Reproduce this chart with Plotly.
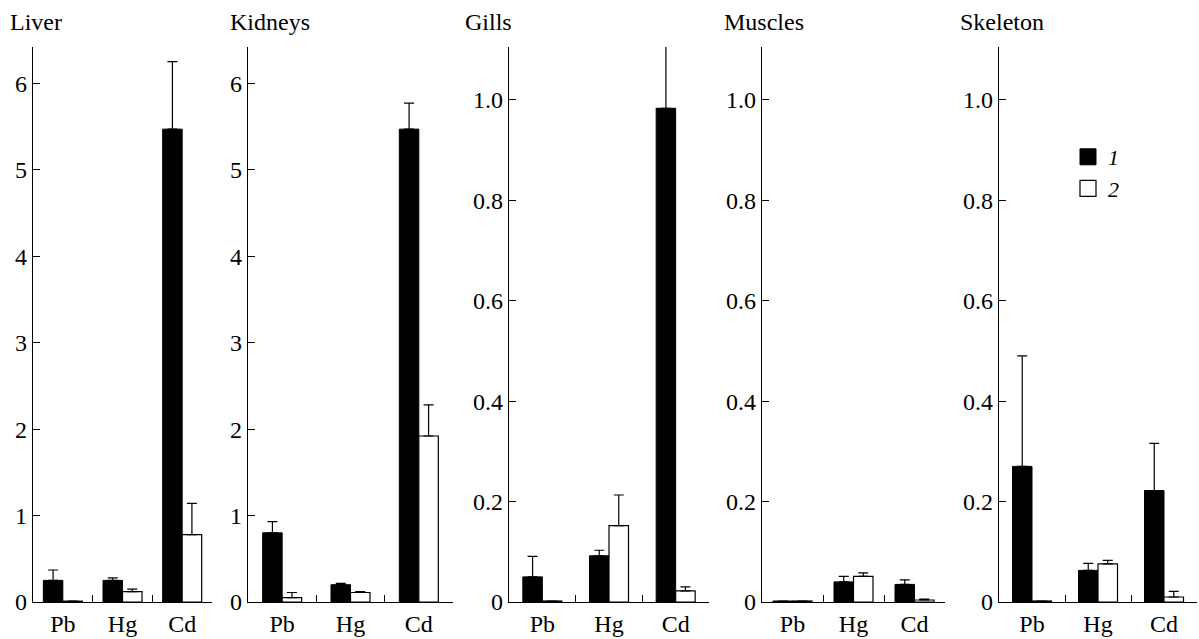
import plotly.graph_objects as go

categories = ["Pb", "Hg", "Cd"]
panels = ["Liver", "Kidneys", "Gills", "Muscles", "Skeleton"]

liver_1 = [0.25, 0.25, 5.47]
liver_1_err = [0.12, 0.03, 0.78]
liver_2 = [0.01, 0.12, 0.78]
liver_2_err = [0.0, 0.03, 0.36]

kidneys_1 = [0.80, 0.20, 5.47]
kidneys_1_err = [0.13, 0.015, 0.30]
kidneys_2 = [0.05, 0.11, 1.92]
kidneys_2_err = [0.06, 0.01, 0.36]

gills_1 = [0.050, 0.092, 0.983]
gills_1_err = [0.041, 0.011, 0.127]
gills_2 = [0.002, 0.152, 0.022]
gills_2_err = [0.0, 0.061, 0.008]

muscles_1 = [0.002, 0.040, 0.035]
muscles_1_err = [0.0, 0.011, 0.009]
muscles_2 = [0.002, 0.051, 0.004]
muscles_2_err = [0.0, 0.007, 0.002]

skeleton_1 = [0.27, 0.063, 0.222]
skeleton_1_err = [0.22, 0.014, 0.094]
skeleton_2 = [0.002, 0.076, 0.010]
skeleton_2_err = [0.0, 0.007, 0.011]

big_ticks = [0, 1, 2, 3, 4, 5, 6]
big_ticktext = ["0", "1", "2", "3", "4", "5", "6"]
small_ticks = [0, 0.2, 0.4, 0.6, 0.8, 1.0]
small_ticktext = ["0", "0.2", "0.4", "0.6", "0.8", "1.0"]

series1 = [liver_1, kidneys_1, gills_1, muscles_1, skeleton_1]
series1_err = [liver_1_err, kidneys_1_err, gills_1_err, muscles_1_err, skeleton_1_err]
series2 = [liver_2, kidneys_2, gills_2, muscles_2, skeleton_2]
series2_err = [liver_2_err, kidneys_2_err, gills_2_err, muscles_2_err, skeleton_2_err]

# layout (pixels)
W, H = 1199, 639
x_px = [(33, 212), (248, 453), (509, 709), (762, 945), (999, 1197)]
title_px = [8, 228, 463, 722, 958]
y_bottom, y_top = 602, 47
y_ranges = [6.42, 6.42, 1.105, 1.105, 1.105]
bar_px = 19.5

FONT = "Liberation Serif"
FS = 24

fig = go.Figure()
for i in range(5):
    ax = "" if i == 0 else str(i + 1)
    x0, x1 = x_px[i]
    cat_px = (x1 - x0) / 3.0
    w = bar_px / cat_px
    fig.add_trace(go.Bar(
        x=categories, y=series1[i], width=w, offset=-w,
        marker=dict(color="black", line=dict(color="black", width=1)),
        error_y=dict(type="data", symmetric=False, array=series1_err[i],
                     arrayminus=[0, 0, 0], color="black", thickness=1.2, width=5),
        xaxis="x" + ax, yaxis="y" + ax, showlegend=False, cliponaxis=False))
    fig.add_trace(go.Bar(
        x=categories, y=series2[i], width=w, offset=0,
        marker=dict(color="white", line=dict(color="black", width=1.2)),
        error_y=dict(type="data", symmetric=False, array=series2_err[i],
                     arrayminus=[0, 0, 0], color="black", thickness=1.2, width=5),
        xaxis="x" + ax, yaxis="y" + ax, showlegend=False, cliponaxis=False))

    big = i < 2
    fig.layout["xaxis" + ax] = dict(
        domain=[x0 / W, x1 / W], anchor="y" + ax, type="category",
        range=[-0.5, 2.5], showline=True, linecolor="black", linewidth=1.3,
        ticks="inside", tickson="boundaries", ticklen=7, tickwidth=1.2, tickcolor="black",
        showgrid=False, zeroline=False, fixedrange=True, automargin=False,
        tickfont=dict(family=FONT, size=FS, color="black"))
    fig.layout["yaxis" + ax] = dict(
        domain=[(H - y_bottom) / H, (H - y_top) / H], anchor="x" + ax,
        range=[0, y_ranges[i]], showline=True, linecolor="black", linewidth=1.3,
        ticks="inside", ticklen=7, tickwidth=1.2, tickcolor="black",
        tickvals=big_ticks if big else small_ticks,
        ticktext=big_ticktext if big else small_ticktext,
        showgrid=False, zeroline=False, fixedrange=True, automargin=False,
        tickfont=dict(family=FONT, size=FS, color="black"))
    fig.add_annotation(text=panels[i], xref="paper", yref="paper",
                       x=title_px[i] / W, y=(H - 22) / H, xanchor="left", yanchor="middle",
                       showarrow=False, font=dict(family=FONT, size=FS, color="black"))

# legend entries
fig.add_trace(go.Scatter(x=[None], y=[None], mode="markers", name="<i>1</i>",
                         marker=dict(symbol="square", size=16, color="black",
                                     line=dict(color="black", width=1)),
                         xaxis="x5", yaxis="y5"))
fig.add_trace(go.Scatter(x=[None], y=[None], mode="markers", name="<i>2</i>",
                         marker=dict(symbol="square", size=16, color="white",
                                     line=dict(color="black", width=1.2)),
                         xaxis="x5", yaxis="y5"))

fig.update_layout(
    width=W, height=H, autosize=False,
    margin=dict(l=0, r=0, t=0, b=0, pad=0, autoexpand=False),
    paper_bgcolor="white", plot_bgcolor="white", barmode="overlay",
    font=dict(family=FONT, size=FS, color="black"),
    legend=dict(x=1068 / W, y=(H - 136) / H, xanchor="left", yanchor="top",
                bgcolor="rgba(0,0,0,0)", font=dict(family=FONT, size=22, color="black"),
                itemwidth=30, tracegroupgap=0),
)

fig.write_html("out.html", config={"displayModeBar": False, "responsive": False},
               post_script="document.body.style.margin='0';document.body.style.overflow='hidden';")
